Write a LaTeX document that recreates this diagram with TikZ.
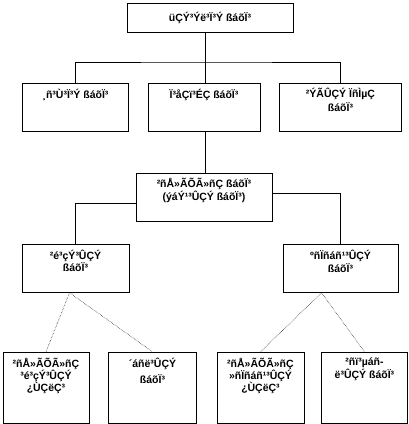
\documentclass[tikz,border=0pt]{standalone}
\usepackage{fontspec}
\setmainfont{Liberation Sans}
\usetikzlibrary{positioning}

\begin{document}
\begin{tikzpicture}[
    x=1pt, y=-1pt,
    node distance=19pt,
    font=\bfseries\fontsize{10.5}{11.5}\selectfont,
    mkt/.style={draw, rectangle, inner sep=0pt, line width=0.5pt},
    txt/.style={anchor=north, inner sep=0pt, align=center, yshift=-6pt},
    link/.style={line width=0.5pt},
    sublink/.style={line width=0.5pt, densely dotted}
]
    \useasboundingbox (0,0) rectangle (409,424);

    \node[mkt, minimum width=166pt, minimum height=29pt] (fin) at (210,17.5) {üÇÝ³Ýë³Ï³Ý ßáõÏ³};

    \node[mkt, minimum width=112pt, minimum height=48pt, label={[txt]north:{Ï³åÇï³ÉÇ ßáõÏ³}}] (cap) at (204,107) {};
    \node[mkt, minimum width=106pt, minimum height=48pt, left=of cap, label={[txt]north:{¸ñ³Ù³Ï³Ý ßáõÏ³}}] (money) {};
    \node[mkt, minimum width=122pt, minimum height=48pt, right=of cap, label={[txt, yshift=1pt]north:{²ÝÃÛÇÝ ÏñÌµÇ\\[3pt]ßáõÏ³}}] (other) {};

    \node[mkt, minimum width=136pt, minimum height=48pt, below=42pt of cap, label={[txt, yshift=1pt]north:{²ñÅ»ÃÕÃ»ñÇ ßáõÏ³\\(ýáÝ¹³ÛÇÝ ßáõÏ³)}}] (sec) {};

    \node[mkt, minimum width=107pt, minimum height=48pt, below=113pt of money, label={[txt]north:{²é³çÝ³ÛÇÝ\\ßáõÏ³}}] (prim) {};
    \node[mkt, minimum width=115pt, minimum height=48pt, below=113pt of other, label={[txt]north:{ºñÏñáñ¹³ÛÇÝ\\[1pt]ßáõÏ³}}] (second) {};

    \node[mkt, minimum width=86pt, minimum height=71pt, label={[txt]north:{²ñÅ»ÃÕÃ»ñÇ\\³é³çÝ³ÛÇÝ\\¿ÙÇëÇ³}}] (emit) at (46,387.5) {};
    \node[mkt, minimum width=88pt, minimum height=71pt, right=of emit, label={[txt]north:{´áñë³ÛÇÝ\\[5pt]ßáõÏ³}}] (exch) {};
    \node[mkt, minimum width=87pt, minimum height=71pt, right=20pt of exch, label={[txt]north:{²ñÅ»ÃÕÃ»ñÇ\\»ñÏñáñ¹³ÛÇÝ\\¿ÙÇëÇ³}}] (reemit) {};
    \node[mkt, minimum width=86pt, minimum height=71pt, right=17pt of reemit, label={[txt]north:{²ñï³µáñ-\\ë³ÛÇÝ ßáõÏ³}}] (otc) {};

    \coordinate (split) at (205,62);
    \draw[link] (fin.south -| split) -- (split);
    \draw[link] (money.north) |- (split) -| (other.north);
    \draw[link] (split) -- (split |- cap.north);
    \draw[link] (cap.south -| split) -- (split |- sec.north);

    \draw[link] ([yshift=-6pt]sec.west) -| (prim.north);
    \draw[link] ([yshift=4pt]sec.east) -| (second.north);

    \draw[sublink] ([xshift=-6pt]prim.south) -- (emit.north);
    \draw[sublink] ([xshift=-6pt]prim.south) -- (exch.north);
    \draw[sublink] ([xshift=-19pt]second.south) -- (reemit.north);
    \draw[sublink] ([xshift=-19pt]second.south) -- (otc.north);
\end{tikzpicture}
\end{document}
